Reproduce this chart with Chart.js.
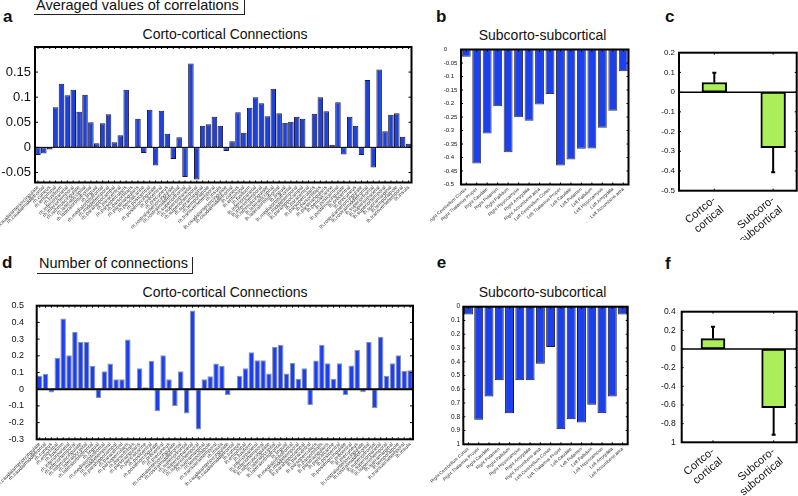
<!DOCTYPE html>
<html>
<head>
<meta charset="utf-8">
<script src="https://cdn.jsdelivr.net/npm/chart.js@4.4.0/dist/chart.umd.min.js"></script>
<style>
  html, body { margin: 0; padding: 0; background: #fff; }
  body { width: 798px; height: 496px; position: relative; overflow: hidden;
         font-family: 'Liberation Sans', Arial, Helvetica, sans-serif; color: #111; }
  .txt { position: absolute; line-height: 1; white-space: nowrap; }
  .letter { font-weight: bold; font-size: 17px; }
  .title { font-size: 14px; width: 240px; text-align: center; }
  .box { position: absolute; border-right: 1px solid #222; border-bottom: 1px solid #222; }
  canvas { position: absolute; }
</style>
</head>
<body>
<!-- panel letters and titles -->
<div class="txt letter" style="left:3px;top:8px">a</div>
<div class="box" style="left:34px;top:-2px;width:210px;height:16px"></div>
<div class="txt" style="left:36px;top:-1.8px;font-size:14.5px">Averaged values of correlations</div>
<div class="txt title" style="left:105px;top:26.5px">Corto-cortical Connections</div>

<div class="txt letter" style="left:436px;top:8.3px">b</div>
<div class="txt title" style="left:422.5px;top:28.2px">Subcorto-subcortical</div>

<div class="txt letter" style="left:665px;top:8.3px">c</div>

<div class="txt letter" style="left:2px;top:253.8px">d</div>
<div class="box" style="left:37px;top:256.7px;width:155px;height:16px"></div>
<div class="txt" style="left:39px;top:256px;font-size:14.5px">Number of connections</div>
<div class="txt title" style="left:105px;top:284.9px">Corto-cortical Connections</div>

<div class="txt letter" style="left:436.7px;top:253.8px">e</div>
<div class="txt title" style="left:422.5px;top:284.9px">Subcorto-subcortical</div>

<div class="txt letter" style="left:665px;top:254.5px">f</div>

<canvas id="pa" width="420" height="200" style="left:0;top:40px"></canvas>
<canvas id="pb" width="210" height="200" style="left:430px;top:40px"></canvas>
<canvas id="pc" width="158" height="200" style="left:640px;top:40px"></canvas>
<canvas id="pd" width="425" height="211" style="left:0;top:285px"></canvas>
<canvas id="pe" width="210" height="211" style="left:430px;top:285px"></canvas>
<canvas id="pf" width="158" height="211" style="left:640px;top:285px"></canvas>

<script>
const FONT = "'Liberation Sans', Arial, Helvetica, sans-serif";

// cortical regions (rh then lh)
const cortLabels = [
  'rh.caudalanteriorcingulate', 'rh.caudalmiddlefrontal', 'rh.cuneus', 'rh.entorhinal',
  'rh.fusiform', 'rh.inferiorparietal', 'rh.inferiortemporal', 'rh.isthmuscingulate',
  'rh.lateraloccipital', 'rh.lateralorbitofrontal', 'rh.lingual', 'rh.medialorbitofrontal',
  'rh.middletemporal', 'rh.parahippocampal', 'rh.paracentral', 'rh.parsopercularis',
  'rh.parsorbitalis', 'rh.parstriangularis', 'rh.pericalcarine', 'rh.postcentral',
  'rh.posteriorcingulate', 'rh.precentral', 'rh.precuneus', 'rh.rostralanteriorcingulate',
  'rh.rostralmiddlefrontal', 'rh.superiorfrontal', 'rh.superiorparietal', 'rh.superiortemporal',
  'rh.supramarginal', 'rh.temporalpole', 'rh.transversetemporal', 'rh.insula',
  'lh.caudalanteriorcingulate', 'lh.caudalmiddlefrontal', 'lh.cuneus', 'lh.entorhinal',
  'lh.fusiform', 'lh.inferiorparietal', 'lh.inferiortemporal', 'lh.isthmuscingulate',
  'lh.lateraloccipital', 'lh.lateralorbitofrontal', 'lh.lingual', 'lh.medialorbitofrontal',
  'lh.middletemporal', 'lh.parahippocampal', 'lh.paracentral', 'lh.parsopercularis',
  'lh.parsorbitalis', 'lh.parstriangularis', 'lh.pericalcarine', 'lh.postcentral',
  'lh.posteriorcingulate', 'lh.precentral', 'lh.precuneus', 'lh.rostralanteriorcingulate',
  'lh.rostralmiddlefrontal', 'lh.superiorfrontal', 'lh.superiorparietal', 'lh.superiortemporal',
  'lh.supramarginal', 'lh.temporalpole', 'lh.transversetemporal', 'lh.insula'
];

// a: averaged correlation, cortical
const corrCort = [
  -0.015, -0.012, -0.004, 0.080, 0.127, 0.104, 0.115, 0.071, 0.105, 0.050, 0.008, 0.048,
  0.066, 0.010, 0.024, 0.115, -0.002, 0.057, -0.011, 0.075, -0.036, 0.073, 0.027, -0.023,
  0.020, -0.059, 0.167, -0.064, 0.043, 0.046, 0.061, 0.043,
  -0.007, 0.012, 0.070, 0.029, 0.079, 0.100, 0.088, 0.062, 0.117, 0.068, 0.049, 0.051,
  0.061, 0.057, 0.001, 0.067, 0.100, 0.072, 0.005, 0.090, -0.014, 0.061, 0.043, -0.015,
  0.134, -0.040, 0.155, 0.032, 0.065, 0.068, 0.021, 0.007
];

// d: number of connections, cortical
const numCort = [
  0.080, 0.092, -0.020, 0.188, 0.424, 0.204, 0.344, 0.282, 0.282, 0.140, -0.052, 0.108,
  0.154, 0.060, 0.060, 0.298, 0.000, 0.126, 0.012, 0.170, -0.132, 0.204, 0.060, -0.100,
  0.108, -0.146, 0.472, -0.242, 0.060, 0.078, 0.154, 0.140,
  -0.034, 0.000, 0.080, 0.126, 0.222, 0.174, 0.174, 0.094, 0.254, 0.266, 0.094, 0.158,
  0.062, 0.126, -0.094, 0.172, 0.266, 0.156, 0.062, 0.156, -0.034, 0.142, 0.234, -0.018,
  0.282, -0.114, 0.314, 0.080, 0.156, 0.204, 0.110, 0.114
];

const subLabels = [
  'Right Cerebellum Cortex', 'Right Thalamus Proper', 'Right Caudate', 'Right Putamen',
  'Right Pallidum', 'Right Hippocampus', 'Right Amygdala', 'Right Accumbens area',
  'Left Cerebellum Cortex', 'Left Thalamus Proper', 'Left Caudate', 'Left Putamen',
  'Left Pallidum', 'Left Hippocampus', 'Left Amygdala', 'Left Accumbens area'
];
// b
const corrSub = [-0.027, -0.422, -0.311, -0.210, -0.381, -0.251, -0.264, -0.204,
                 -0.165, -0.430, -0.407, -0.368, -0.367, -0.290, -0.227, -0.081];
// e
const numSub = [0.056, 0.822, 0.652, 0.535, 0.774, 0.535, 0.535, 0.414,
                0.292, 0.890, 0.818, 0.842, 0.713, 0.774, 0.652, 0.056];

// c, f
const groupLabels = [['Cortco-', 'cortical'], ['Subcoro-', 'subcortical']];
const groupPos = [1, 2];
const corrMean = [0.049, -0.282];
const corrErr = [0.098, -0.406];
const numMean = [0.112, -0.630];
const numErr = [0.238, -0.920];

// y tick values and their texts
const aTicks = [-0.05, 0, 0.05, 0.1, 0.15];
const aTickText = ['-0.05', '0', '0.05', '0.1', '0.15'];
const bTicks = [-0.5, -0.45, -0.4, -0.35, -0.3, -0.25, -0.2, -0.15, -0.1, -0.05, 0];
const bTickText = ['-0.5', '-0.45', '-0.4', '-0.35', '-0.3', '-0.25', '-0.2', '-0.15', '-0.1', '-0.05', '0'];
const cTicks = [-0.5, -0.4, -0.3, -0.2, -0.1, 0, 0.1, 0.2];
const cTickText = ['-0.5', '-0.4', '-0.3', '-0.2', '-0.1', '0', '0.1', '0.2'];
const dTicks = [-0.3, -0.2, -0.1, 0, 0.1, 0.2, 0.3, 0.4, 0.5];
const dTickText = ['-0.3', '-0.2', '-0.1', '0', '0.1', '0.2', '0.3', '0.4', '0.5'];
const eTicks = [0, 0.1, 0.2, 0.3, 0.4, 0.5, 0.6, 0.7, 0.8, 0.9, 1];
const eTickText = ['0', '0.1', '0.2', '0.3', '0.4', '0.5', '0.6', '0.7', '0.8', '0.9', '1'];
const fTicks = [-1, -0.8, -0.6, -0.4, -0.2, 0, 0.2, 0.4];
const fTickText = ['1', '-0.8', '-0.6', '-0.4', '-0.2', '0', '0.2', '0.4'];

// box, inward ticks, zero line and error bars (MATLAB look)
function framePlugin(o) {
  return {
    id: 'frame',
    afterDatasetsDraw(chart) {
      const {ctx, chartArea: a, scales: {x, y}} = chart;
      ctx.save();
      ctx.strokeStyle = '#000';
      if (o.zero) {
        const y0 = y.getPixelForValue(0);
        ctx.lineWidth = o.zero;
        ctx.beginPath(); ctx.moveTo(a.left, y0); ctx.lineTo(a.right, y0); ctx.stroke();
      }
      if (o.err) {
        const meta = chart.getDatasetMeta(0);
        ctx.lineWidth = 2;
        ctx.beginPath();
        o.err.forEach((e, i) => {
          const bar = meta.data[i];
          const ye = y.getPixelForValue(e);
          ctx.moveTo(bar.x, bar.y); ctx.lineTo(bar.x, ye);
          ctx.moveTo(bar.x - 2, ye); ctx.lineTo(bar.x + 2, ye);
        });
        ctx.stroke();
      }
      ctx.lineWidth = 1;
      ctx.beginPath();
      y.ticks.forEach(t => {
        const py = y.getPixelForValue(t.value);
        ctx.moveTo(a.left, py); ctx.lineTo(a.left + o.tick, py);
        ctx.moveTo(a.right, py); ctx.lineTo(a.right - o.tick, py);
      });
      x.ticks.forEach(t => {
        const px = x.getPixelForValue(t.value);
        ctx.moveTo(px, a.top); ctx.lineTo(px, a.top + o.xtick);
        ctx.moveTo(px, a.bottom); ctx.lineTo(px, a.bottom - o.xtick);
      });
      ctx.stroke();
      ctx.lineWidth = 2;
      ctx.strokeRect(a.left, a.top, a.right - a.left, a.bottom - a.top);
      ctx.restore();
    }
  };
}

function makePanel(id, p) {
  const linearX = !!p.xRange;
  const noGrid = {display: false, drawTicks: false};
  const xScale = linearX ? {
    type: 'linear', min: p.xRange[0], max: p.xRange[1], offset: false,
    grid: noGrid, border: {display: false},
    afterBuildTicks: s => { s.ticks = groupPos.map(v => ({value: v})); },
    ticks: {autoSkip: false, minRotation: p.rot, maxRotation: p.rot, padding: p.xPad,
            callback: (v, i) => groupLabels[i], color: '#111',
            font: {family: FONT, size: p.xFont, lineHeight: 1.15}},
    afterFit: s => { s.height = p.xh; s.paddingLeft = 0; s.paddingRight = 0; }
  } : {
    type: 'category', offset: true,
    grid: noGrid, border: {display: false},
    ticks: {autoSkip: false, minRotation: p.rot, maxRotation: p.rot, padding: p.xPad,
            color: '#333', font: {family: FONT, size: p.xFont}},
    afterFit: s => { s.height = p.xh; s.paddingLeft = 0; s.paddingRight = 0; }
  };

  const values = linearX ? groupPos.map((x, i) => ({x: x, y: p.values[i]})) : p.values;

  return new Chart(document.getElementById(id).getContext('2d'), {
    type: 'bar',
    data: {
      labels: linearX ? undefined : p.labels,
      datasets: [{
        data: values,
        backgroundColor: p.fill,
        borderColor: p.edge,
        borderWidth: p.edgeWidth,
        borderSkipped: false,
        barPercentage: 1,
        categoryPercentage: p.catPct || 0.9,
        barThickness: p.barThickness
      }]
    },
    options: {
      responsive: false,
      animation: false,
      events: [],
      layout: {padding: p.pad},
      plugins: {legend: {display: false}, tooltip: {enabled: false}},
      scales: {
        x: xScale,
        y: {
          type: 'linear', min: p.yRange[0], max: p.yRange[1], reverse: !!p.reverse,
          grid: noGrid, border: {display: false},
          afterBuildTicks: s => { s.ticks = p.yTicks.map(v => ({value: v})); },
          ticks: {padding: p.yPad, crossAlign: p.yAlign || 'near', color: '#111',
                  font: {family: FONT, size: p.yFont},
                  callback: (v, i) => p.yTickText[i]},
          afterFit: s => { s.width = p.yw; s.paddingTop = 0; s.paddingBottom = 0; }
        }
      }
    },
    plugins: [framePlugin({tick: p.tick, xtick: p.xtick, zero: p.zero, err: p.err})]
  });
}

// a
makePanel('pa', {
  labels: cortLabels, values: corrCort, fill: '#2041d8', edge: '#1a1a3c', edgeWidth: 1, catPct: 0.94,
  yRange: [-0.07, 0.2], yTicks: aTicks, yTickText: aTickText, yFont: 13, yPad: 4, yw: 35,
  xFont: 5.2, rot: 45, xPad: 2, xh: 57.5,
  pad: {left: 0, top: 7, right: 8.5, bottom: 0},
  tick: 3, xtick: 2, zero: 1
});

// b
makePanel('pb', {
  labels: subLabels, values: corrSub, fill: '#1c40ea', edge: '#3a3a48', edgeWidth: 1, catPct: 0.85,
  yRange: [-0.5, 0], yTicks: bTicks, yTickText: bTickText, yFont: 6, yPad: 3, yw: 17.3, yAlign: 'far',
  xFont: 4.6, rot: 42, xPad: 2, xh: 55.5,
  pad: {left: 13.7, top: 9.5, right: 11.5, bottom: 0},
  tick: 2, xtick: 2, zero: 0
});

// c
makePanel('pc', {
  values: corrMean, fill: '#aaef5a', edge: '#000', edgeWidth: 2, barThickness: 24.7,
  xRange: [0.4, 2.4],
  yRange: [-0.5, 0.2], yTicks: cTicks, yTickText: cTickText, yFont: 8, yPad: 4, yw: 39,
  xFont: 11, rot: 40, xPad: 3, xh: 49.3,
  pad: {left: 0, top: 12.7, right: 1.3, bottom: 0},
  tick: 2, xtick: 2, zero: 1.5, err: corrErr
});

// d
makePanel('pd', {
  labels: cortLabels, values: numCort, fill: '#1d3ff0', edge: '#8a94a8', edgeWidth: 1, catPct: 0.94,
  yRange: [-0.3, 0.5], yTicks: dTicks, yTickText: dTickText, yFont: 9, yPad: 12.7, yw: 36.7,
  xFont: 5.2, rot: 45, xPad: 2, xh: 56.7,
  pad: {left: 0, top: 20.7, right: 12, bottom: 0},
  tick: 3, xtick: 2, zero: 2
});

// e
makePanel('pe', {
  labels: subLabels, values: numSub, fill: '#1c40ea', edge: '#1a1a2a', edgeWidth: 1, catPct: 0.87,
  yRange: [0, 1], reverse: true, yTicks: eTicks, yTickText: eTickText, yFont: 6.5, yPad: 3.3, yw: 33.3,
  xFont: 4.6, rot: 42, xPad: 2, xh: 51.7,
  pad: {left: 0, top: 21.7, right: 12.3, bottom: 0},
  tick: 2, xtick: 2, zero: 0
});

// f
makePanel('pf', {
  values: numMean, fill: '#aaef5a', edge: '#000', edgeWidth: 2, barThickness: 24,
  xRange: [0.484, 2.38],
  yRange: [-1, 0.4], yTicks: fTicks, yTickText: fTickText, yFont: 8.5, yPad: 6, yw: 41.7,
  xFont: 11, rot: 40, xPad: 3, xh: 53.7,
  pad: {left: 0, top: 26.7, right: 1.3, bottom: 0},
  tick: 2, xtick: 2, zero: 1.5, err: numErr
});
</script>
</body>
</html>
